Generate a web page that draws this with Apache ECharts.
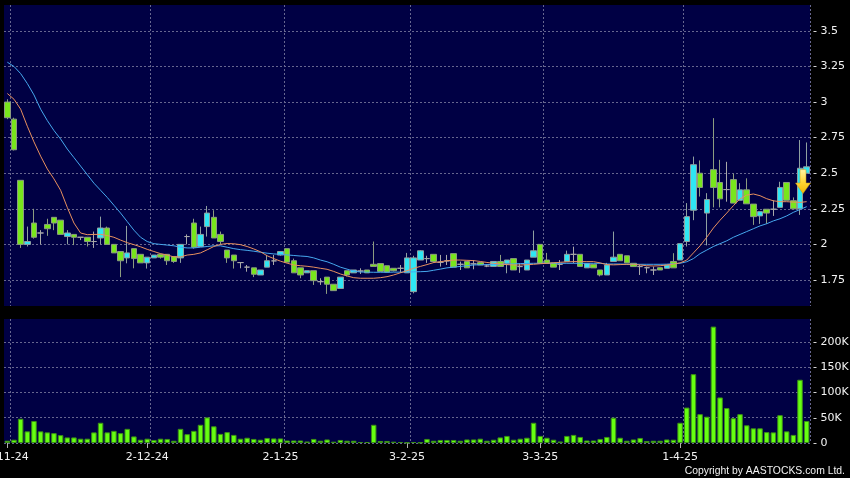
<!DOCTYPE html>
<html><head><meta charset="utf-8">
<script src="https://cdn.jsdelivr.net/npm/echarts@6/dist/echarts.min.js"></script>
<style>html,body{margin:0;padding:0;background:#000;}#c{width:850px;height:478px;}</style>
</head><body><div id="c"></div>
<script>
const dates = [
'1-11-24','4-11-24','5-11-24','6-11-24','7-11-24','8-11-24','11-11-24','12-11-24','13-11-24','14-11-24','15-11-24','18-11-24','19-11-24','20-11-24','21-11-24','22-11-24','25-11-24','26-11-24','27-11-24','28-11-24','29-11-24',
'2-12-24','3-12-24','4-12-24','5-12-24','6-12-24','9-12-24','10-12-24','11-12-24','12-12-24','13-12-24','16-12-24','17-12-24','18-12-24','19-12-24','20-12-24','23-12-24','24-12-24','27-12-24','30-12-24','31-12-24',
'2-1-25','3-1-25','6-1-25','7-1-25','8-1-25','9-1-25','10-1-25','13-1-25','14-1-25','15-1-25','16-1-25','17-1-25','20-1-25','21-1-25','22-1-25','23-1-25','24-1-25','27-1-25','28-1-25',
'3-2-25','4-2-25','5-2-25','6-2-25','7-2-25','10-2-25','11-2-25','12-2-25','13-2-25','14-2-25','17-2-25','18-2-25','19-2-25','20-2-25','21-2-25','24-2-25','25-2-25','26-2-25','27-2-25','28-2-25',
'3-3-25','4-3-25','5-3-25','6-3-25','7-3-25','10-3-25','11-3-25','12-3-25','13-3-25','14-3-25','17-3-25','18-3-25','19-3-25','20-3-25','21-3-25','24-3-25','25-3-25','26-3-25','27-3-25','28-3-25','31-3-25',
'1-4-25','2-4-25','3-4-25','7-4-25','8-4-25','9-4-25','10-4-25','11-4-25','14-4-25','15-4-25','16-4-25','17-4-25','22-4-25','23-4-25','24-4-25','25-4-25','28-4-25','29-4-25','30-4-25',
'2-5-25'];
const tickLabels = ['1-11-24','2-12-24','2-1-25','3-2-25','3-3-25','1-4-25'];
const priceTicks = [1.75, 2, 2.25, 2.5, 2.75, 3, 3.25, 3.5];
const volumeTicks = [0, 50000, 100000, 150000, 200000];

const open = [3.00,2.88,2.45,2.00,2.15,2.08,2.14,2.19,2.17,2.055,2.07,2.05,2.05,2.02,2.045,2.115,2.00,1.95,1.905,1.97,1.93,
1.87,1.905,1.93,1.93,1.915,1.905,2.055,2.15,1.985,2.125,2.19,2.07,1.96,1.925,1.872,1.84,1.835,1.785,1.84,1.884,
1.925,1.97,1.885,1.835,1.80,1.815,1.738,1.77,1.72,1.69,1.815,1.80,1.813,1.82,1.86,1.865,1.85,1.832,1.832,
1.80,1.668,1.89,1.90,1.93,1.874,1.884,1.935,1.86,1.88,1.863,1.872,1.848,1.845,1.88,1.867,1.90,1.844,1.82,1.91,
2.00,1.89,1.87,1.86,1.88,1.93,1.93,1.835,1.86,1.82,1.785,1.88,1.93,1.92,1.867,1.844,1.836,1.82,1.836,1.832,1.88,
1.89,2.02,2.24,2.50,2.22,2.525,2.435,2.385,2.455,2.31,2.383,2.283,2.20,2.247,2.247,2.26,2.435,2.307,2.25,
2.50];
const close = [2.89,2.665,2.00,2.02,2.05,2.08,2.11,2.15,2.07,2.08,2.05,2.05,2.02,2.02,2.115,2.00,1.94,1.885,1.94,1.90,1.87,
1.91,1.925,1.91,1.885,1.88,2.00,2.055,1.98,2.07,2.22,2.045,2.02,1.905,1.885,1.872,1.84,1.79,1.82,1.885,1.884,
1.95,1.875,1.80,1.785,1.815,1.745,1.738,1.72,1.675,1.77,1.785,1.82,1.813,1.80,1.845,1.81,1.805,1.815,1.832,
1.905,1.905,1.955,1.90,1.88,1.874,1.884,1.84,1.86,1.835,1.863,1.855,1.848,1.88,1.845,1.89,1.82,1.844,1.89,1.955,
1.867,1.867,1.84,1.86,1.93,1.93,1.845,1.865,1.835,1.785,1.855,1.91,1.885,1.87,1.844,1.844,1.836,1.82,1.82,1.855,1.835,
2.005,2.195,2.56,2.40,2.315,2.40,2.32,2.385,2.29,2.383,2.285,2.195,2.23,2.22,2.247,2.40,2.31,2.25,2.535,
2.545];
const low = [2.88,2.66,1.975,1.985,2.04,2.00,2.06,2.10,2.07,2.00,1.995,2.03,1.985,1.975,2.00,2.00,1.94,1.77,1.867,1.832,1.87,
1.83,1.905,1.90,1.855,1.87,1.87,2.00,1.97,1.985,2.055,2.045,2.00,1.87,1.83,1.832,1.808,1.77,1.785,1.84,1.855,
1.92,1.875,1.80,1.762,1.80,1.715,1.715,1.652,1.675,1.69,1.775,1.80,1.792,1.80,1.845,1.81,1.805,1.81,1.80,
1.80,1.656,1.89,1.87,1.87,1.844,1.855,1.84,1.82,1.835,1.825,1.855,1.84,1.845,1.845,1.797,1.82,1.80,1.82,1.91,
1.867,1.867,1.84,1.82,1.88,1.867,1.845,1.835,1.835,1.775,1.785,1.88,1.885,1.87,1.844,1.785,1.797,1.785,1.82,1.832,1.835,
1.89,1.985,2.17,2.336,1.993,2.26,2.26,2.30,2.29,2.31,2.285,2.137,2.144,2.144,2.20,2.26,2.31,2.25,2.207,
2.50];
const high = [3.02,2.89,2.45,2.125,2.25,2.10,2.18,2.19,2.17,2.10,2.07,2.05,2.05,2.09,2.195,2.125,2.00,1.95,2.13,1.97,1.93,
1.91,1.925,1.935,1.93,1.915,2.00,2.07,2.18,2.125,2.27,2.24,2.09,1.96,1.925,1.872,1.855,1.835,1.82,1.926,1.926,
1.95,1.97,1.90,1.835,1.815,1.815,1.762,1.77,1.72,1.77,1.815,1.82,1.832,1.82,2.02,1.865,1.85,1.832,1.855,
1.94,1.92,1.96,1.92,1.93,1.926,1.926,1.935,1.879,1.88,1.89,1.872,1.86,1.88,1.926,1.89,1.90,1.867,1.89,2.097,
2.00,1.94,1.87,1.89,1.956,1.984,1.93,1.865,1.86,1.82,1.87,2.09,1.93,1.92,1.867,1.855,1.844,1.844,1.836,1.855,1.938,
2.005,2.29,2.617,2.59,2.36,2.887,2.594,2.58,2.497,2.43,2.464,2.283,2.23,2.247,2.31,2.44,2.435,2.33,2.733,
2.716];
const volume = [4500,6500,48000,23000,43500,23000,21000,19500,15500,11000,11000,8500,8500,21000,40000,21000,24000,19500,28000,13000,6500,
8500,6000,8500,8000,4500,28000,17500,24000,36000,50600,33000,18000,21500,16000,8500,10400,8000,6500,10000,9000,
9000,5000,5000,5000,3000,8000,4500,7000,2600,6000,4500,4500,2000,2000,36000,4000,4000,2600,2000,
1000,2000,1000,8000,4500,6000,6000,6000,4500,7000,7000,8500,4500,6500,11000,14000,6500,8500,10400,40000,
14000,10400,6500,3000,14000,16000,12000,5000,5000,8000,12000,50000,10400,4500,7000,10000,4000,4500,4500,7000,6500,
40000,70000,136000,57000,52000,230000,90000,69000,49000,57000,35000,29000,29000,21500,21000,55000,23000,16000,125000,
43500];
const ma10 = [3.06,3.02,2.95,2.83,2.72,2.62,2.53,2.46,2.38,2.26,2.15,2.08,2.068,2.07,2.07,2.062,2.05,2.03,2.012,1.998,1.983,
1.965,1.95,1.935,1.925,1.912,1.912,1.925,1.93,1.94,1.962,1.985,2.0,2.006,2.004,1.998,1.985,1.968,1.948,1.92,1.90,
1.882,1.868,1.855,1.85,1.846,1.84,1.832,1.825,1.81,1.792,1.778,1.766,1.762,1.762,1.762,1.766,1.773,1.785,1.80,
1.815,1.832,1.845,1.858,1.872,1.878,1.885,1.89,1.89,1.888,1.886,1.88,1.873,1.867,1.862,1.858,1.855,1.855,1.857,1.86,
1.864,1.867,1.87,1.874,1.877,1.879,1.879,1.879,1.879,1.87,1.858,1.856,1.858,1.86,1.86,1.855,1.85,1.848,1.85,1.855,1.862,
1.87,1.89,1.94,1.99,2.05,2.115,2.17,2.22,2.272,2.32,2.346,2.354,2.342,2.321,2.306,2.30,2.30,2.297,2.295,
2.30];
const ma20 = [3.28,3.25,3.20,3.13,3.05,2.95,2.87,2.80,2.74,2.67,2.61,2.55,2.49,2.43,2.38,2.33,2.275,2.22,2.16,2.10,2.05,
2.02,2.005,2.0,1.995,1.99,1.98,1.975,1.975,1.98,1.985,1.99,1.99,1.98,1.97,1.963,1.958,1.952,1.945,1.938,1.933,
1.93,1.926,1.922,1.918,1.915,1.905,1.89,1.878,1.86,1.84,1.826,1.812,1.806,1.805,1.804,1.804,1.804,1.805,1.805,
1.806,1.807,1.808,1.81,1.818,1.826,1.835,1.84,1.845,1.85,1.855,1.857,1.858,1.86,1.86,1.862,1.863,1.865,1.866,1.867,
1.867,1.867,1.867,1.867,1.867,1.867,1.867,1.867,1.867,1.867,1.862,1.862,1.862,1.86,1.86,1.86,1.86,1.86,1.86,1.861,1.864,
1.867,1.878,1.90,1.935,1.96,1.985,2.005,2.025,2.05,2.07,2.09,2.11,2.13,2.145,2.165,2.18,2.20,2.225,2.245,
2.265];

const labelIdx = tickLabels.map(l => dates.indexOf(l));
const candles = dates.map((d, i) => [open[i], close[i], low[i], high[i]]);
const gridLine = { color: '#66668f', type: [2, 2], width: 1 };
const font = 'DejaVu Sans';
const splitFn = (i) => labelIdx.indexOf(i - 1) >= 0;
const labelFn = (i, v) => tickLabels.indexOf(v) >= 0;

const chart = echarts.init(document.getElementById('c'), null, { renderer: 'canvas' });
chart.setOption({
  animation: false,
  backgroundColor: '#000000',
  grid: [
    { left: 4, right: 40, top: 5, height: 301, show: true, backgroundColor: '#000044', borderWidth: 0, outerBoundsMode: 'none', containLabel: false },
    { left: 4, right: 40, top: 319, height: 124, show: true, backgroundColor: '#000044', borderWidth: 0, outerBoundsMode: 'none', containLabel: false }
  ],
  xAxis: [
    { type: 'category', gridIndex: 0, data: dates, boundaryGap: true,
      axisLine: { show: false }, axisTick: { show: false }, axisLabel: { show: false },
      splitLine: { show: true, interval: splitFn, lineStyle: gridLine } },
    { type: 'category', gridIndex: 1, data: dates, boundaryGap: true,
      axisLine: { show: false },
      axisTick: { show: true, alignWithLabel: true, interval: labelFn, length: 5, lineStyle: { color: '#b0b0b0' } },
      axisLabel: { interval: labelFn, color: '#f2f2f2', fontFamily: font, fontSize: 11, margin: 9, hideOverlap: false },
      splitLine: { show: true, interval: splitFn, lineStyle: gridLine } }
  ],
  yAxis: [
    { type: 'value', gridIndex: 0, position: 'right', min: 1.567, max: 3.682,
      axisLine: { show: false }, axisTick: { show: false, customValues: priceTicks },
      axisLabel: { customValues: priceTicks, formatter: v => '- ' + v, color: '#f2f2f2', fontFamily: font, fontSize: 11, margin: 3 },
      splitLine: { show: true, lineStyle: gridLine } },
    { type: 'value', gridIndex: 1, position: 'right', min: 0, max: 245000,
      axisLine: { show: false }, axisTick: { show: false, customValues: volumeTicks },
      axisLabel: { customValues: volumeTicks, formatter: v => '- ' + (v === 0 ? '0' : (v / 1000) + 'K'), color: '#f2f2f2', fontFamily: font, fontSize: 11, margin: 3 },
      splitLine: { show: true, lineStyle: gridLine } }
  ],
  series: [
    { type: 'candlestick', xAxisIndex: 0, yAxisIndex: 0, data: candles, barWidth: 6, barMaxWidth: 6,
      itemStyle: { color: '#2fe6f4', color0: '#78e61c', borderColor: '#8fa0a0', borderColor0: '#8c9c80', borderColorDoji: '#a8a8a8', borderWidth: 1 } },
    { type: 'line', xAxisIndex: 0, yAxisIndex: 0, data: ma20, showSymbol: false, symbol: 'none',
      lineStyle: { color: '#46a8ee', width: 1 }, z: 3 },
    { type: 'line', xAxisIndex: 0, yAxisIndex: 0, data: ma10, showSymbol: false, symbol: 'none',
      lineStyle: { color: '#e8905e', width: 1 }, z: 3,
      markPoint: {
        symbol: 'path://M4.3,0 L10,0 L10,13 L14.3,13 L7.15,23.3 L0,13 L4.3,13 Z',
        symbolSize: [15, 24], symbolKeepAspect: false, symbolOffset: [3, 0],
        label: { show: false }, z: 10,
        itemStyle: { color: new echarts.graphic.LinearGradient(0, 0, 0, 1, [{ offset: 0, color: '#fff6a8' }, { offset: 0.5, color: '#ffd838' }, { offset: 1, color: '#f2b600' }]), borderColor: '#c99a18', borderWidth: 0.5 },
        data: [{ coord: [dates[119], 2.441] }]
      } },
    { type: 'bar', xAxisIndex: 1, yAxisIndex: 1, data: volume, barWidth: 5.5,
      itemStyle: { color: '#66ff11', borderColor: '#3c9016', borderWidth: 1 } }
  ],
  graphic: [
    { type: 'text', right: 5, top: 466,
      style: { text: 'Copyright by AASTOCKS.com Ltd.', fill: '#f2f2f2', font: '10.4px "Liberation Sans"' } }
  ]
});
</script>
</body></html>
